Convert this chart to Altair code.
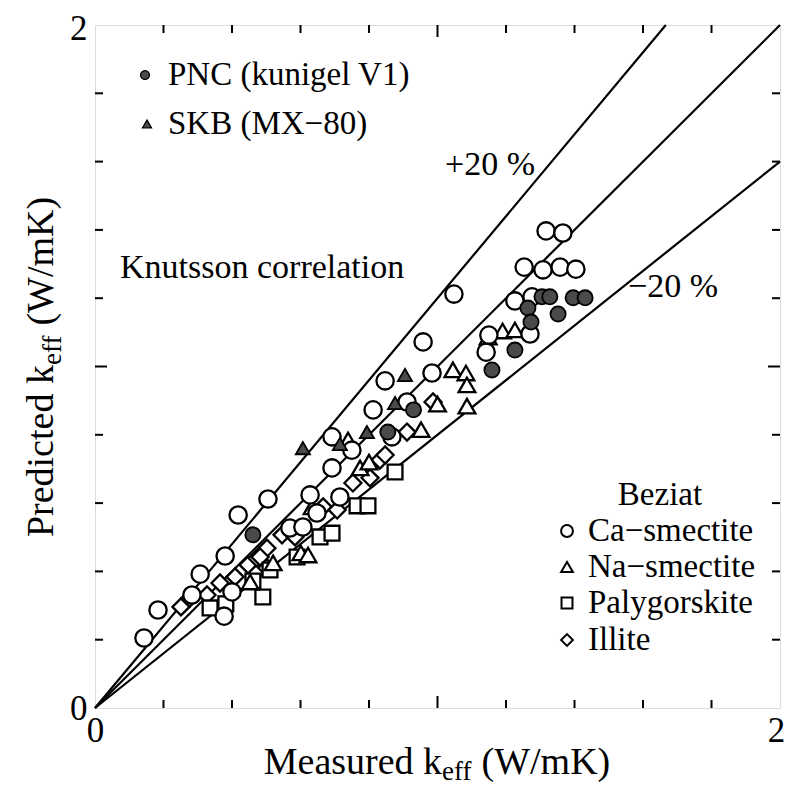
import altair as alt
import pandas as pd

# ---------------- data ----------------
ca_x = [0.143, 0.184, 0.307, 0.380, 0.418, 0.505, 0.377, 0.283, 0.400, 0.569, 0.607, 0.628, 0.648,
        0.692, 0.692, 0.715, 0.750, 0.812, 0.847, 0.867, 0.911, 0.958, 0.984, 1.048, 1.142, 1.150,
        1.226, 1.270, 1.276, 1.253, 1.308, 1.358, 1.404, 1.317, 1.366]
ca_y = [0.205, 0.287, 0.392, 0.445, 0.565, 0.612, 0.269, 0.331, 0.340, 0.527, 0.530, 0.624, 0.571,
        0.703, 0.794, 0.618, 0.755, 0.873, 0.958, 0.794, 0.896, 1.072, 0.981, 1.212, 1.042, 1.092,
        1.192, 1.095, 1.204, 1.291, 1.283, 1.291, 1.285, 1.397, 1.391]

na_x = [0.453, 0.520, 0.601, 0.622, 0.634, 0.739, 0.774, 0.800, 0.952, 1.000, 1.045, 1.083, 1.086,
        1.086, 1.148, 1.190, 1.226]
na_y = [0.369, 0.425, 0.454, 0.448, 0.589, 0.785, 0.703, 0.720, 0.815, 0.890, 0.990, 0.981, 0.946,
        0.884, 1.086, 1.104, 1.107]

pa_x = [0.336, 0.382, 0.461, 0.490, 0.511, 0.590, 0.657, 0.692, 0.765, 0.797, 0.876]
pa_y = [0.293, 0.305, 0.372, 0.325, 0.404, 0.442, 0.501, 0.512, 0.592, 0.592, 0.691]

il_x = [0.251, 0.277, 0.327, 0.365, 0.409, 0.447, 0.473, 0.502, 0.502, 0.482, 0.546, 0.584, 0.666,
        0.707, 0.753, 0.803, 0.832, 0.847, 0.911, 0.987]
il_y = [0.296, 0.322, 0.331, 0.366, 0.384, 0.419, 0.439, 0.468, 0.410, 0.442, 0.507, 0.501, 0.589,
        0.580, 0.659, 0.674, 0.726, 0.741, 0.808, 0.896]

pnc_x = [0.461, 0.855, 0.930, 1.159, 1.226, 1.264, 1.273, 1.305, 1.328, 1.352, 1.396, 1.431]
pnc_y = [0.507, 0.808, 0.873, 0.990, 1.048, 1.171, 1.130, 1.204, 1.204, 1.154, 1.201, 1.201]

skb_x = [0.607, 0.715, 0.794, 0.876, 0.905]
skb_y = [0.761, 0.773, 0.808, 0.893, 0.975]

# reference lines: y = x, y = 1.2x, y = 0.8x
line_names = ["+20", "0", "-20"]
line_x_end = [2 / 1.2, 2.0, 2.0]
line_y_end = [2.0, 2.0, 1.6]

tick_minor = [0.2, 0.4, 0.6, 0.8, 1.2, 1.4, 1.6, 1.8]
tick_major = [1.0]
axis_labels = [0, 1, 2]

W, H = 685, 683
FONT = "Liberation Serif"

# approximate Times advance widths (per 1000 em) for composing sub-scripted titles
TW = {"M": 889, "e": 444, "a": 444, "s": 389, "u": 500, "r": 333, "d": 500, " ": 250, "k": 500,
      "f": 333, "(": 333, ")": 333, "W": 944, "/": 278, "m": 778, "K": 722, "P": 556, "i": 278,
      "c": 444, "t": 278}


def tw(s, size):
    return sum(TW.get(ch, 500) for ch in s) * size / 1000.0


xs = alt.Scale(domain=[0, 2], nice=False, zero=False)
ys = alt.Scale(domain=[0, 2], nice=False, zero=False)

xax = alt.Axis(values=axis_labels, format="d", ticks=False, domain=False, grid=False, title=None,
               labelFont=FONT, labelFontSize=35, labelColor="black", labelPadding=5,
               labelFlush=False,
               labelOffset={"condition": {"test": "datum.value == 2", "value": -4}, "value": 0})
yax = alt.Axis(values=axis_labels, format="d", ticks=False, domain=False, grid=False, title=None,
               labelFont=FONT, labelFontSize=35, labelColor="black", labelPadding=8,
               labelFlush=False,
               labelOffset={"condition": {"test": "datum.value == 2", "value": 3}, "value": 0})

# lines
rows = []
for n, xe, ye in zip(line_names, line_x_end, line_y_end):
    rows.append({"line": n, "x": 0.0, "y": 0.0})
    rows.append({"line": n, "x": xe, "y": ye})
lines_df = pd.DataFrame(rows)
lines = alt.Chart(lines_df).mark_line(color="black", strokeWidth=2.2).encode(
    x=alt.X("x:Q", scale=xs, axis=xax),
    y=alt.Y("y:Q", scale=ys, axis=yax),
    detail="line:N",
)


def pts(xv, yv, shape, size, fill, sw=2.3):
    df = pd.DataFrame({"x": xv, "y": yv})
    return alt.Chart(df).mark_point(shape=shape, size=size, filled=True, fill=fill, stroke="black",
                                    strokeWidth=sw, opacity=1).encode(
        x=alt.X("x:Q", scale=xs), y=alt.Y("y:Q", scale=ys))


il = pts(il_x, il_y, "diamond", 290, "white")
pa = pts(pa_x, pa_y, "square", 220, "white")
na = pts(na_x, na_y, "triangle-up", 280, "white")
ca = pts(ca_x, ca_y, "circle", 300, "white")
pnc = pts(pnc_x, pnc_y, "circle", 230, "#4a4a4a", 1.8)
skb = pts(skb_x, skb_y, "triangle-up", 200, "#4a4a4a", 1.8)

# inward ticks
tmin = pd.DataFrame({"v": tick_minor})
tmaj = pd.DataFrame({"v": tick_major})


def tick_layers(df, L):
    b = alt.Chart(df).mark_rule(color="black", strokeWidth=2).encode(
        x=alt.X("v:Q", scale=xs), y=alt.value(H), y2=alt.value(H - L))
    t = alt.Chart(df).mark_rule(color="black", strokeWidth=2).encode(
        x=alt.X("v:Q", scale=xs), y=alt.value(0), y2=alt.value(L))
    l = alt.Chart(df).mark_rule(color="black", strokeWidth=2).encode(
        y=alt.Y("v:Q", scale=ys), x=alt.value(0), x2=alt.value(L))
    r = alt.Chart(df).mark_rule(color="black", strokeWidth=2).encode(
        y=alt.Y("v:Q", scale=ys), x=alt.value(W), x2=alt.value(W - L))
    return [b, t, l, r]


ticks = tick_layers(tmin, 8) + tick_layers(tmaj, 12)


def txt(s, x, y, size=33, align="left", baseline="middle", angle=0):
    return alt.Chart(pd.DataFrame({"t": [s]})).mark_text(
        font=FONT, fontSize=size, align=align, baseline=baseline, angle=angle, color="black"
    ).encode(x=alt.value(x), y=alt.value(y), text="t:N")


def mk(shape, x, y, size, fill, sw):
    return alt.Chart(pd.DataFrame({"a": [0]})).mark_point(
        shape=shape, size=size, filled=True, fill=fill, stroke="black", strokeWidth=sw, opacity=1
    ).encode(x=alt.value(x), y=alt.value(y))


# composed axis titles (main text + smaller subscript "eff" + units)
TS, SS = 38, 27
GAP = tw(" ", TS)
p1, p2, p3 = "Measured k", "eff", "(W/mK)"
xt_total = tw(p1, TS) + tw(p2, SS) + GAP + tw(p3, TS)
xt0 = 342 - xt_total / 2
xb = 749
q1, q2, q3 = "Predicted k", "eff", "(W/mK)"
yt_total = tw(q1, TS) + tw(q2, SS) + GAP + tw(q3, TS)
yt0 = 342 + yt_total / 2
yb = -42

annots = [
    mk("circle", 50, 50, 80, "#4a4a4a", 1.3),
    txt("PNC (kunigel V1)", 73, 50),
    mk("triangle-up", 52, 99, 80, "#4a4a4a", 1.3),
    txt("SKB (MX−80)", 73, 99),
    txt("+20 %", 350, 140, size=34),
    txt("Knutsson correlation", 25, 243, size=34),
    txt("−20 %", 533, 262, size=34),
    txt("Beziat", 565, 470, align="center"),
    mk("circle", 472, 506, 140, "white", 2),
    txt("Ca−smectite", 493, 506),
    mk("triangle-up", 472, 542, 140, "white", 2),
    txt("Na−smectite", 493, 542),
    mk("square", 472, 578, 120, "white", 2),
    txt("Palygorskite", 493, 578),
    mk("diamond", 472, 615, 140, "white", 2),
    txt("Illite", 493, 615),
    # x-axis title
    txt(p1, xt0, xb, size=TS, baseline="alphabetic"),
    txt(p2, xt0 + tw(p1, TS), xb + 6, size=SS, baseline="alphabetic"),
    txt(p3, xt0 + tw(p1, TS) + tw(p2, SS) + GAP, xb, size=TS, baseline="alphabetic"),
    # y-axis title (rotated)
    txt(q1, yb, yt0, size=TS, baseline="alphabetic", angle=270),
    txt(q2, yb + 8, yt0 - tw(q1, TS), size=SS, baseline="alphabetic", angle=270),
    txt(q3, yb, yt0 - tw(q1, TS) - tw(q2, SS) - GAP, size=TS, baseline="alphabetic", angle=270),
]

chart = alt.layer(lines, il, pa, na, ca, pnc, skb, *ticks, *annots).properties(
    width=W, height=H,
    autosize=alt.AutoSizeParams(type="none"),
    padding={"left": 87, "top": 17, "right": 5, "bottom": 79},
).configure_view(stroke="black", strokeWidth=2).configure(background="white")

chart.save("out.html", embed_options={"renderer": "svg", "actions": False})
